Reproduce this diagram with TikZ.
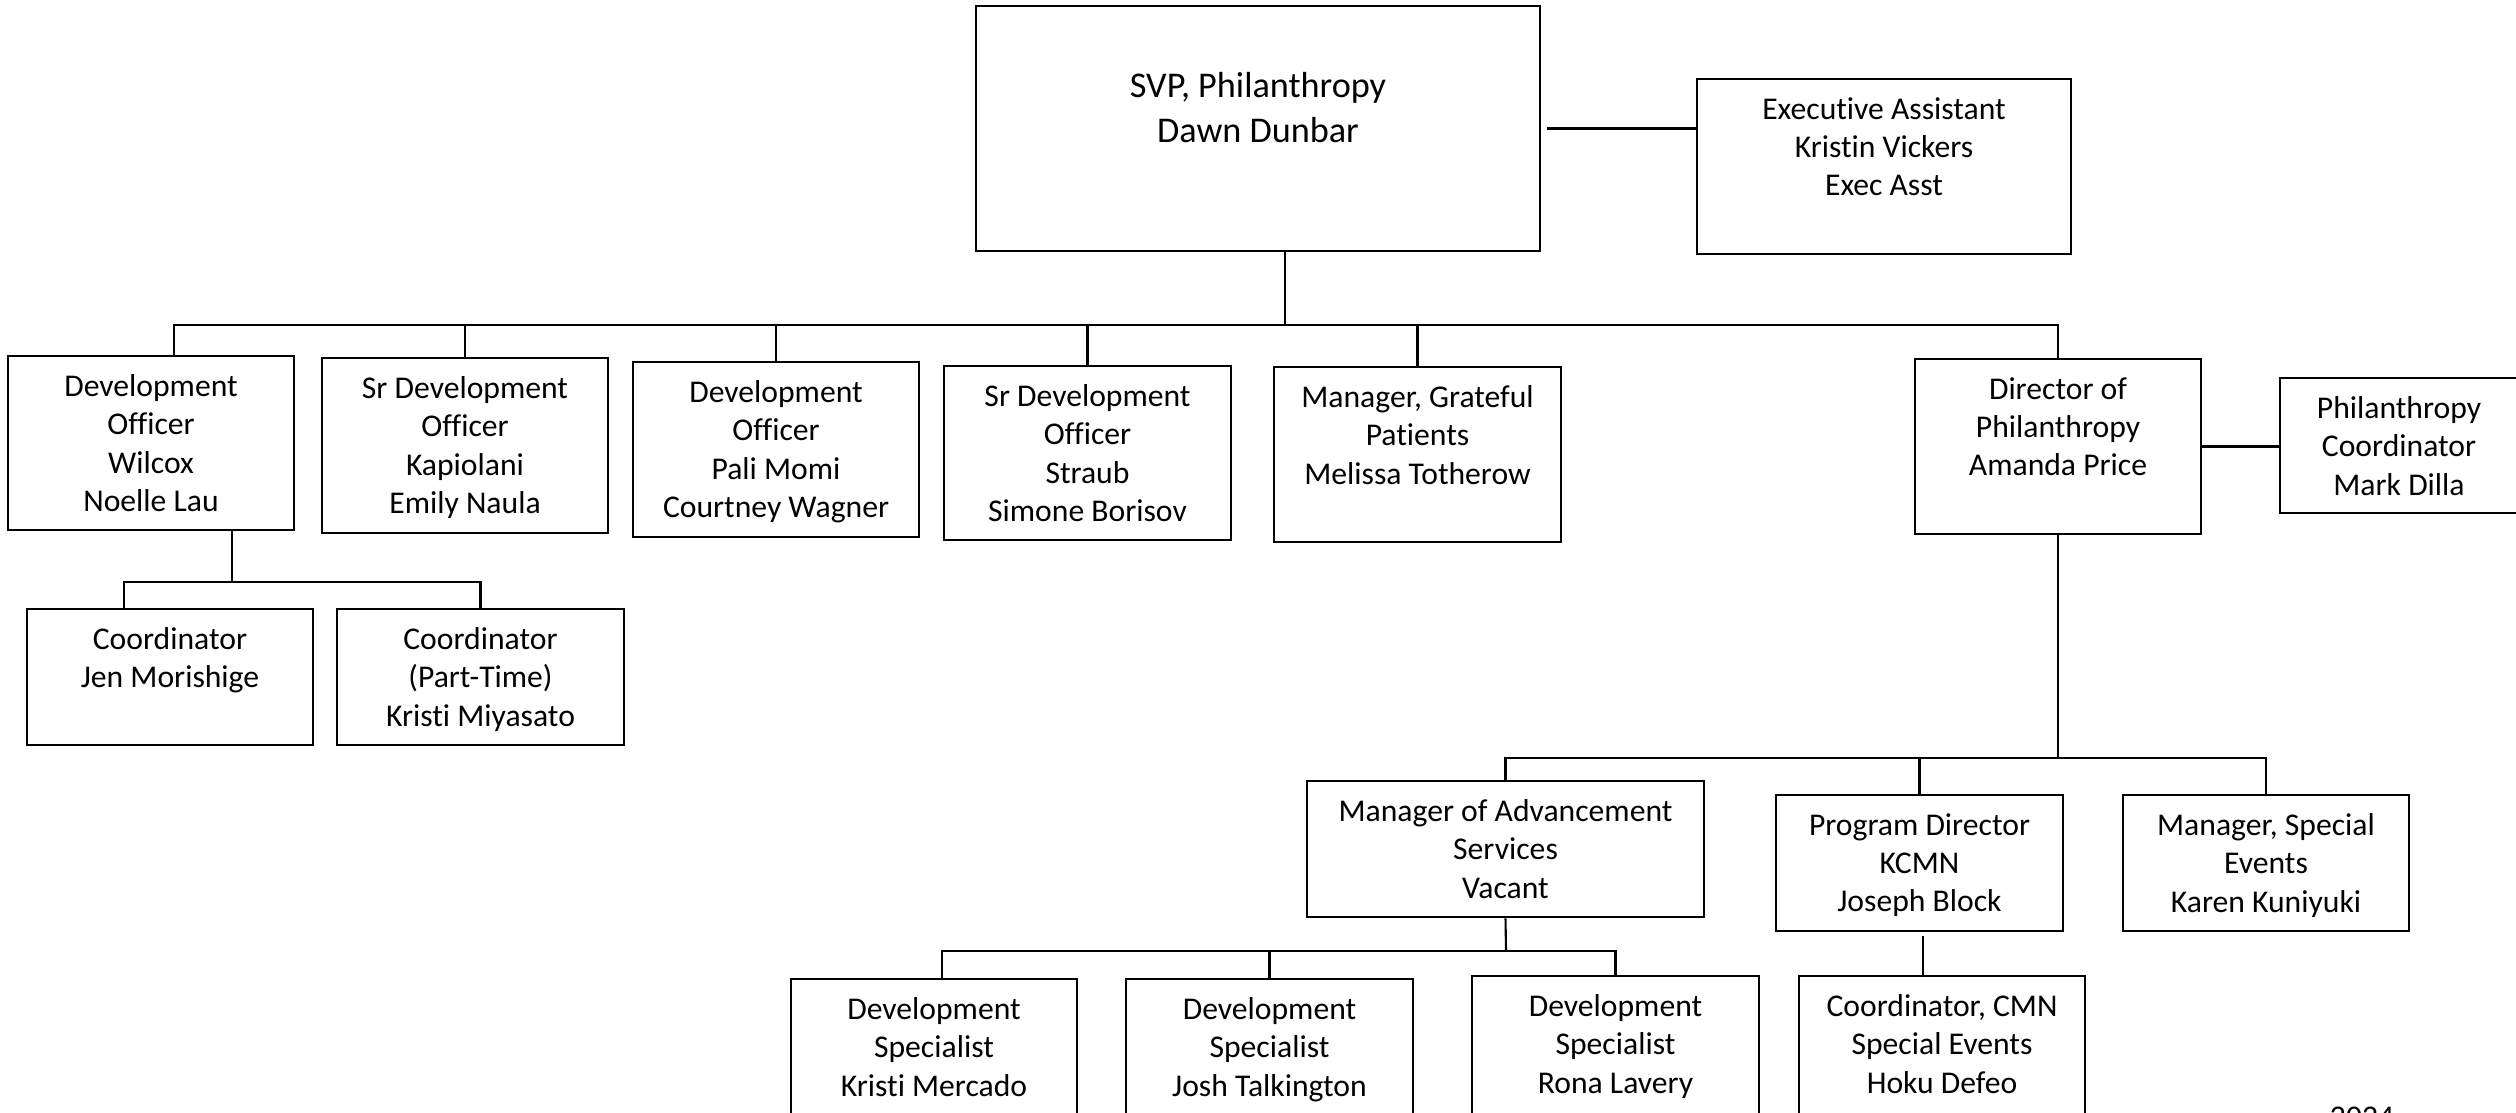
\documentclass[tikz,border=0pt]{standalone}
\usepackage{fontspec}
\setmainfont{Carlito}[RawFeature={-liga}]
\usetikzlibrary{fit}

\begin{document}
\begin{tikzpicture}[x=0.01cm,y=-0.01cm,
    box/.style={draw,line width=0.75pt,inner sep=0pt},
    txt/.style={font=\fontsize{9}{10.9}\selectfont,align=center,anchor=north,inner sep=0pt,yshift=-0.19cm},
    bigtxt/.style={font=\fontsize{10.3}{12.8}\selectfont,align=center,anchor=north,inner sep=0pt,yshift=-0.67cm},
    link/.style={line width=0.6pt}]
  \useasboundingbox (0,0) rectangle (2516,1112);
  \fill[white] (0,0) rectangle (2516,1112);
  \clip (0,0) rectangle (2516,1112);

  % top
  \node[box,fit={(976,6) (1540,251)},label={[bigtxt]north:{SVP, Philanthropy\\Dawn Dunbar}}] (svp) {};
  \node[box,fit={(1697,79) (2071,254)},label={[txt]north:{Executive Assistant\\Kristin Vickers\\Exec Asst}}] (exec) {};

  % second row
  \node[box,fit={(8,356) (294,530)},label={[txt]north:{Development\\Officer\\Wilcox\\Noelle Lau}}] (wilcox) {};
  \node[box,fit={(322,358) (608,533)},label={[txt]north:{Sr Development\\Officer\\Kapiolani\\Emily Naula}}] (kapiolani) {};
  \node[box,fit={(633,362) (919,537)},label={[txt]north:{Development\\Officer\\Pali Momi\\Courtney Wagner}}] (palimomi) {};
  \node[box,fit={(944,366) (1231,540)},label={[txt]north:{Sr Development\\Officer\\Straub\\Simone Borisov}}] (straub) {};
  \node[box,fit={(1274,367) (1561,542)},label={[txt]north:{Manager, Grateful\\Patients\\Melissa Totherow}}] (grateful) {};
  \node[box,fit={(1915,359) (2201,534)},label={[txt]north:{Director of\\Philanthropy\\Amanda Price}}] (director) {};
  \node[box,fit={(2280,378) (2518,513)},label={[txt]north:{Philanthropy\\Coordinator\\Mark Dilla}}] (philcoord) {};

  % under wilcox
  \node[box,fit={(27,609) (313,745)},label={[txt]north:{Coordinator\\Jen Morishige}}] (jen) {};
  \node[box,fit={(337,609) (624,745)},label={[txt]north:{Coordinator\\(Part-Time)\\Kristi Miyasato}}] (parttime) {};

  % under director
  \node[box,fit={(1307,781) (1704,917)},label={[txt]north:{Manager of Advancement\\Services\\Vacant}}] (mgradv) {};
  \node[box,fit={(1776,795) (2063,931)},label={[txt]north:{Program Director\\KCMN\\Joseph Block}}] (progdir) {};
  \node[box,fit={(2123,795) (2409,931)},label={[txt]north:{Manager, Special\\Events\\Karen Kuniyuki}}] (special) {};

  % bottom row
  \node[box,fit={(791,979) (1077,1130)},label={[txt]north:{Development\\Specialist\\Kristi Mercado}}] (kristi) {};
  \node[box,fit={(1126,979) (1413,1130)},label={[txt]north:{Development\\Specialist\\Josh Talkington}}] (josh) {};
  \node[box,fit={(1472,976) (1759,1130)},label={[txt]north:{Development\\Specialist\\Rona Lavery}}] (rona) {};
  \node[box,fit={(1799,976) (2085,1130)},label={[txt]north:{Coordinator, CMN\\Special Events\\Hoku Defeo}}] (cmn) {};

  \node[font=\fontsize{9}{10.9}\selectfont,anchor=north,inner sep=0pt] (year) at (2362,1106) {2024};

  % lines
  \draw[link] ([xshift=0.06cm]svp.east) -- (svp.east -| exec.west);
  \coordinate (top) at (1285,325);
  \draw[link] (svp.south -| top) -- (top);
  \coordinate (wdrop) at (174,356);
  \draw[link] (wdrop) |- (director.north |- top) -- (director.north);
  \draw[link] (kapiolani.north) -- (kapiolani.north |- top);
  \draw[link] (palimomi.north) -- (palimomi.north |- top);
  \draw[link] (straub.north) -- (straub.north |- top);
  \draw[link] (grateful.north) -- (grateful.north |- top);
  \draw[link] (director.east) -- (director.east -| philcoord.west);

  \coordinate (wmid) at (232,582);
  \draw[link] (wilcox.south -| wmid) -- (wmid);
  \coordinate (jdrop) at (124,609);
  \draw[link] (jdrop) |- (parttime.north |- wmid) -- (parttime.north);

  \coordinate (low) at (2058,758);
  \draw[link] (director.south) -- (low);
  \draw[link] (mgradv.north) |- (special.north |- low) -- (special.north);
  \draw[link] (progdir.north) -- (progdir.north |- low);

  \coordinate (amid) at (1506,951);
  \draw[link] (mgradv.south) -- (amid);
  \coordinate (kdrop) at (942,979);
  \draw[link] (kdrop) |- (rona.north |- amid) -- (rona.north);
  \draw[link] (josh.north) -- (josh.north |- amid);

  \coordinate (pdrop) at (1923,936);
  \draw[link] (pdrop) -- (pdrop |- cmn.north);
\end{tikzpicture}
\end{document}
